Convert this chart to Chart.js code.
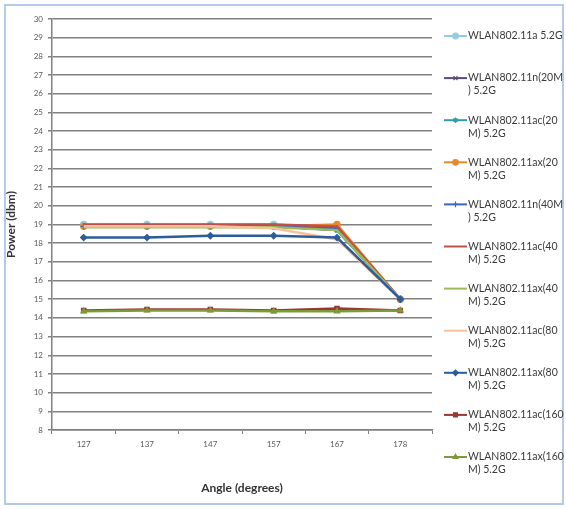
<!DOCTYPE html>
<html>
<head>
<meta charset="utf-8">
<script src="https://cdn.jsdelivr.net/npm/chart.js@4.4.1/dist/chart.umd.min.js"></script>
<style>
  html, body { margin: 0; padding: 0; background: #fff; }
  #wrap { position: relative; width: 566px; height: 509px; }
  #frame { position: absolute; left: 4px; top: 4px; width: 556px; height: 497px; border: 2px solid #b3cbe8; }
  canvas { position: absolute; left: 0; top: 0; }
</style>
</head>
<body>
<div id="wrap">
  <div id="frame"></div>
  <canvas id="chart" width="566" height="509"></canvas>
</div>
<script>
/* ---------- 数据 ---------- */
var ANGLES = ["127", "137", "147", "157", "167", "178"];

var SERIES_NAMES = [
  "WLAN802.11a 5.2G",
  "WLAN802.11n(20M) 5.2G",
  "WLAN802.11ac(20M) 5.2G",
  "WLAN802.11ax(20M) 5.2G",
  "WLAN802.11n(40M) 5.2G",
  "WLAN802.11ac(40M) 5.2G",
  "WLAN802.11ax(40M) 5.2G",
  "WLAN802.11ac(80M) 5.2G",
  "WLAN802.11ax(80M) 5.2G",
  "WLAN802.11ac(160M) 5.2G",
  "WLAN802.11ax(160M) 5.2G"
];

// 图例里的换行 (按原图)
var LEGEND_LINES = [
  ["WLAN802.11a 5.2G"],
  ["WLAN802.11n(20M", ") 5.2G"],
  ["WLAN802.11ac(20", "M) 5.2G"],
  ["WLAN802.11ax(20", "M) 5.2G"],
  ["WLAN802.11n(40M", ") 5.2G"],
  ["WLAN802.11ac(40", "M) 5.2G"],
  ["WLAN802.11ax(40", "M) 5.2G"],
  ["WLAN802.11ac(80", "M) 5.2G"],
  ["WLAN802.11ax(80", "M) 5.2G"],
  ["WLAN802.11ac(160", "M) 5.2G"],
  ["WLAN802.11ax(160", "M) 5.2G"]
];

var A_20       = [19.0, 19.0, 19.0, 19.0, 18.8, 15.0];
var N_20M      = [18.9, 18.9, 18.9, 18.9, 18.7, 15.0];
var AC_20M     = [18.9, 18.9, 18.9, 18.9, 18.7, 15.0];
var AX_20M     = [18.9, 18.9, 18.9, 18.9, 19.0, 15.0];
var N_40M      = [18.9, 18.9, 18.9, 18.9, 18.8, 15.0];
var AC_40M     = [19.0, 19.0, 19.0, 19.0, 18.9, 15.0];
var AX_40M     = [18.85, 18.85, 18.85, 18.85, 18.7, 15.0];
var AC_80M     = [18.9, 18.9, 18.9, 18.8, 18.2, 15.0];
var AX_80M     = [18.3, 18.3, 18.4, 18.4, 18.3, 15.0];
var AC_160M    = [14.4, 14.45, 14.45, 14.4, 14.5, 14.4];
var AX_160M    = [14.35, 14.4, 14.4, 14.35, 14.35, 14.4];

var VALUES = [A_20, N_20M, AC_20M, AX_20M, N_40M, AC_40M, AX_40M, AC_80M, AX_80M, AC_160M, AX_160M];

var COLORS = [
  "#93cddd", "#5b4b72", "#2f9ea3", "#e8892d", "#3a64c2", "#c0504d",
  "#9bbb59", "#f8c09a", "#2c5d9a", "#953735", "#7d9a36"
];
var MARKERS = [
  "circle", "crossRot", "star", "circle", "cross", false,
  false, false, "rectRot", "rect", "triangle"
];

var FONT = 'Lato, "Open Sans", sans-serif';

/* ---------- 图例 (右侧, 两行文字) ---------- */
var sideLegend = {
  id: "sideLegend",
  afterDraw: function (chart) {
    var ctx = chart.ctx;
    var x0 = 444, x1 = 467, top = 36, gap = 42.1;
    ctx.save();
    chart.data.datasets.forEach(function (ds, i) {
      var y = top + i * gap;
      ctx.strokeStyle = ds.borderColor;
      ctx.lineWidth = 2;
      ctx.beginPath();
      ctx.moveTo(x0, y);
      ctx.lineTo(x1, y);
      ctx.stroke();
      if (ds.pointStyle) {
        ctx.fillStyle = ds.borderColor;
        ctx.strokeStyle = ds.borderColor;
        ctx.lineWidth = 1.2;
        Chart.helpers.drawPoint(ctx, { pointStyle: ds.pointStyle, radius: 2.8, rotation: 0, borderWidth: 1.2 }, (x0 + x1) / 2, y);
      }
      ctx.fillStyle = "#3a3a3a";
      ctx.font = "10.5px " + FONT;
      ctx.textBaseline = "middle";
      ctx.textAlign = "left";
      LEGEND_LINES[i].forEach(function (t, k) {
        ctx.fillText(t, x1 + 1, y + k * 13);
      });
    });
    ctx.restore();
  }
};

var datasets = SERIES_NAMES.map(function (name, i) {
  return {
    label: name,
    data: VALUES[i],
    borderColor: COLORS[i],
    backgroundColor: COLORS[i],
    borderWidth: 2.5,
    pointStyle: MARKERS[i],
    pointRadius: MARKERS[i] ? 3 : 0,
    pointBorderWidth: 1.3,
    order: SERIES_NAMES.length - i,
    tension: 0
  };
});

new Chart(document.getElementById("chart"), {
  type: "line",
  data: { labels: ANGLES, datasets: datasets },
  plugins: [sideLegend],
  options: {
    responsive: false,
    animation: false,
    layout: { padding: { left: 0, right: 134, top: 19, bottom: 0 } },
    plugins: {
      legend: { display: false },
      tooltip: { enabled: false }
    },
    scales: {
      x: {
        offset: true,
        afterFit: function (s) { s.height = 79; },
        grid: { drawOnChartArea: false, drawTicks: true, tickLength: 4, offset: true, color: "#808080" },
        border: { color: "#808080", width: 1.5 },
        ticks: { color: "#5a5a5a", font: { family: FONT, size: 8 }, padding: 6 },
        title: {
          display: true,
          text: "Angle (degrees)",
          color: "#333",
          font: { family: FONT, size: 12, weight: "bold" },
          padding: { top: 0, bottom: 14 }
        }
      },
      y: {
        min: 8,
        max: 30,
        afterFit: function (s) { s.width = 52; },
        grid: { color: "#808080", lineWidth: 1.5, tickLength: 4 },
        border: { color: "#808080", width: 1.5 },
        ticks: { stepSize: 1, color: "#5a5a5a", font: { family: FONT, size: 8 }, padding: 5 },
        title: {
          display: true,
          text: "Power (dbm)",
          color: "#333",
          font: { family: FONT, size: 12, weight: "bold" },
          padding: { top: 4, bottom: 0 }
        }
      }
    }
  }
});
</script>
</body>
</html>
